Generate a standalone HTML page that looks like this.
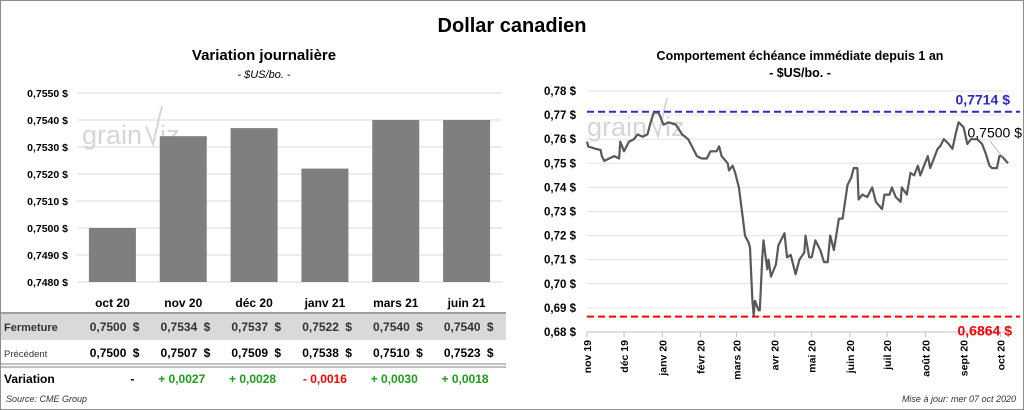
<!DOCTYPE html>
<html><head><meta charset="utf-8"><style>
body{margin:0;background:#fff;}
svg{display:block;font-family:"Liberation Sans",sans-serif;}
</style></head><body>
<svg width="1024" height="410" viewBox="0 0 1024 410">
<rect x="0.5" y="0.5" width="1023" height="409" fill="#fff" stroke="#8c8c8c"/>
<text x="512" y="32" text-anchor="middle" font-size="20" font-weight="bold">Dollar canadien</text>
<text x="264" y="60" text-anchor="middle" font-size="15" font-weight="bold">Variation  journalière</text>
<text x="264" y="78" text-anchor="middle" font-size="11" font-style="italic">- $US/bo. -</text>
<text x="800" y="60" text-anchor="middle" font-size="12.5" font-weight="bold">Comportement échéance immédiate depuis 1 an</text>
<text x="800" y="77" text-anchor="middle" font-size="12.5" font-weight="bold">- $US/bo. -</text>
<g id="bars"></g>
<g id="table"></g>
<g id="line"></g>
<text x="6" y="402" font-size="9" font-style="italic" fill="#333">Source: CME Group</text>
<text x="1016" y="402" text-anchor="end" font-size="9" font-style="italic" fill="#333">Mise à jour: mer 07 oct 2020</text>
</svg>
<script>
const NS="http://www.w3.org/2000/svg";
function mk(p,t,a,txt){const e=document.createElementNS(NS,t);for(const k in a)e.setAttribute(k,a[k]);if(txt!==undefined)e.textContent=txt;p.appendChild(e);return e;}

// ----- bar chart data -----
const barCategories=["oct 20","nov 20","déc 20","janv 21","mars 21","juin 21"];
const barValues=[0.7500,0.7534,0.7537,0.7522,0.7540,0.7540];
const barTicks=[0.7480,0.7490,0.7500,0.7510,0.7520,0.7530,0.7540,0.7550];
const closeLabels=["0,7500","0,7534","0,7537","0,7522","0,7540","0,7540"];
const prevLabels=["0,7500","0,7507","0,7509","0,7538","0,7510","0,7523"];
const varLabels=["-","+ 0,0027","+ 0,0028","- 0,0016","+ 0,0030","+ 0,0018"];

function watermark(p,x,y){
 const g=mk(p,'g',{});
 
 
 mk(g,'text',{x:x,y:y,'font-size':27,fill:'#d6d6d6'},'grain');
 mk(g,'polyline',{points:`${x+64},${y-18} ${x+71},${y} ${x+80},${y-38}`,fill:'none',stroke:'#d6d6d6','stroke-width':2});
 mk(g,'text',{x:x+78,y:y,'font-size':27,fill:'#d6d6d6'},'iz');
}

const bg=document.getElementById('bars');
const bx0=77,bx1=502,by0=282,by1=93,bmin=0.7480,bmax=0.7550;
const bY=v=>by0-(v-bmin)/(bmax-bmin)*(by0-by1);
const band=(bx1-bx0)/barCategories.length;
const bX=i=>bx0+band*(i+0.5);
barTicks.forEach(t=>{
 const l=mk(bg,'line',{x1:bx0,x2:bx1,y1:bY(t),y2:bY(t),stroke:'#d9d9d9','stroke-width':1});
 
 
 const tx=mk(bg,'text',{x:68,y:bY(t)+4,'text-anchor':'end','font-size':10.5,'font-weight':'bold'},t.toFixed(4).replace('.',',')+' $');
 
 
});
watermark(bg,82,144);
barValues.forEach((v,i)=>{
 const r=mk(bg,'rect',{x:bX(i)-23.5,y:bY(v),width:47,height:by0-bY(v),fill:'#7f7f7f'});
 
 
});

// ----- table -----
const tg=document.getElementById('table');
mk(tg,'rect',{x:1,y:314,width:505,height:26,fill:'#d9d9d9'});
mk(tg,'line',{x1:1,x2:506,y1:313,y2:313,stroke:'#7f7f7f','stroke-width':1.5});
mk(tg,'line',{x1:1,x2:506,y1:364,y2:364,stroke:'#7f7f7f','stroke-width':1});
mk(tg,'line',{x1:1,x2:506,y1:367,y2:367,stroke:'#7f7f7f','stroke-width':1});
mk(tg,'text',{x:4,y:331,'font-size':11,'font-weight':'bold',fill:'#333'},'Fermeture');
mk(tg,'text',{x:4,y:357,'font-size':9.5,fill:'#333'},'Précédent');
mk(tg,'text',{x:4,y:383,'font-size':12,'font-weight':'bold'},'Variation');
barCategories.forEach((c,i)=>{
 const h=mk(tg,'text',{x:bX(i),y:307,'text-anchor':'middle','font-size':12,'font-weight':'bold'},c);
 
 
 const cx=bX(i)+27;
 const a=mk(tg,'text',{x:cx-13,y:331,'text-anchor':'end','font-size':12,'font-weight':'bold',fill:'#333'},closeLabels[i]);
 
 
 mk(tg,'text',{x:cx,y:331,'text-anchor':'end','font-size':12,'font-weight':'bold',fill:'#333'},'$');
 const b=mk(tg,'text',{x:cx-13,y:357,'text-anchor':'end','font-size':12,'font-weight':'bold'},prevLabels[i]);
 
 
 mk(tg,'text',{x:cx,y:357,'text-anchor':'end','font-size':12,'font-weight':'bold'},'$');
 const col=varLabels[i]==='-'?'#000':(varLabels[i][0]==='-'?'#ff0000':'#1a9e1a');
 const d=mk(tg,'text',{x:cx-5,y:383,'text-anchor':'end','font-size':12,'font-weight':'bold',fill:col},varLabels[i]);
 
 
});

// ----- line chart data -----
const lineDays=[0,1,7,11,12,14,18,22,26,27,30,34,38,41,45,49,51,54,58,62,66,72,77,82,85,89,93,97,100,105,107,109,114,115,118,120,123,126,128,131,132,134,135,136,139,140,142,143,146,147,149,153,155,158,160,162,165,169,172,176,177,180,182,185,189,192,195,197,200,204,207,211,214,216,219,220,223,227,231,234,239,241,245,247,250,254,255,259,262,265,268,270,273,276,278,281,284,286,289,293,296,299,301,305,308,311,316,320,323,326,328,332,334,336,341];
const lineValues=[0.759,0.757,0.756,0.7555,0.753,0.751,0.752,0.753,0.752,0.759,0.755,0.759,0.760,0.762,0.761,0.762,0.766,0.771,0.771,0.766,0.767,0.766,0.762,0.760,0.757,0.753,0.752,0.752,0.755,0.755,0.757,0.753,0.750,0.747,0.749,0.746,0.740,0.728,0.720,0.717,0.715,0.693,0.687,0.693,0.689,0.689,0.711,0.718,0.706,0.710,0.703,0.708,0.716,0.719,0.721,0.711,0.712,0.704,0.710,0.713,0.720,0.711,0.711,0.718,0.714,0.709,0.709,0.720,0.714,0.727,0.727,0.741,0.744,0.748,0.748,0.735,0.737,0.736,0.740,0.734,0.731,0.737,0.737,0.740,0.736,0.734,0.740,0.737,0.746,0.745,0.749,0.745,0.749,0.753,0.748,0.752,0.756,0.757,0.760,0.758,0.756,0.763,0.767,0.765,0.758,0.760,0.760,0.758,0.754,0.749,0.748,0.748,0.753,0.753,0.750];
const lineTicks=[0.68,0.69,0.70,0.71,0.72,0.73,0.74,0.75,0.76,0.77,0.78];
const monthLabels=["nov 19","déc 19","janv 20","févr 20","mars 20","avr 20","mai 20","juin 20","juil 20","août 20","sept 20","oct 20"];
const monthDays=[0,30,61,92,121,152,182,213,243,274,305,335];
const highValue=0.7714, lowValue=0.6864, lastValue=0.7500;

const lg=document.getElementById('line');
const lx0=587,lx1=1008,ly0=332,ly1=91,lmin=0.68,lmax=0.78,dmax=341;
const lX=d=>lx0+d/dmax*(lx1-lx0);
const lY=v=>ly0-(v-lmin)/(lmax-lmin)*(ly0-ly1);
lineTicks.forEach(t=>{
 const l=mk(lg,'line',{x1:lx0,x2:lx1,y1:lY(t),y2:lY(t),stroke:t===lmin?'#bfbfbf':'#e3e3e3','stroke-width':1});
 
 
 const tx=mk(lg,'text',{x:576,y:lY(t)+4,'text-anchor':'end','font-size':11.5,'font-weight':'bold'},t.toFixed(2).replace('.',',')+' $');
 
 
});
monthDays.forEach((d,i)=>{
 const x=lX(d);
 mk(lg,'line',{x1:x,x2:x,y1:ly0,y2:ly0+5,stroke:'#bfbfbf'});
 const tx=mk(lg,'text',{x:0,y:0,'text-anchor':'end','font-size':10.5,'font-weight':'bold',transform:`translate(${x+4},${ly0+8}) rotate(-90)`},monthLabels[i]);
 
 
});
watermark(lg,587,136);
const hl=mk(lg,'line',{x1:lx0,x2:lx1+12,y1:lY(highValue),y2:lY(highValue),stroke:'#2a2ad0','stroke-width':2,'stroke-dasharray':'7,4'});


const ll=mk(lg,'line',{x1:lx0,x2:lx1+12,y1:lY(lowValue),y2:lY(lowValue),stroke:'#ff0000','stroke-width':2,'stroke-dasharray':'7,4'});


const hlab=mk(lg,'text',{x:1010,y:lY(highValue)-7,'text-anchor':'end','font-size':14,'font-weight':'bold',fill:'#2a2ad0'},highValue.toFixed(4).replace('.',',')+'  $');


const llab=mk(lg,'text',{x:1012,y:lY(lowValue)+19,'text-anchor':'end','font-size':14,'font-weight':'bold',fill:'#ff0000'},lowValue.toFixed(4).replace('.',',')+'  $');


const pts=lineDays.map((d,i)=>lX(d).toFixed(1)+','+lY(lineValues[i]).toFixed(1)).join(' ');
const pl=mk(lg,'polyline',{points:pts,fill:'none',stroke:'#595959','stroke-width':2.2,'stroke-linejoin':'round'});


const ld=lineDays[lineDays.length-1];
mk(lg,'line',{x1:lX(ld)-5,y1:lY(lastValue)-6,x2:lX(ld)-18,y2:lY(lastValue)-22,stroke:'#a6a6a6','stroke-width':0.8});
const lab=mk(lg,'text',{x:1022,y:lY(lastValue)-26,'text-anchor':'end','font-size':14},lastValue.toFixed(4).replace('.',',')+' $');


</script>
</body></html>
